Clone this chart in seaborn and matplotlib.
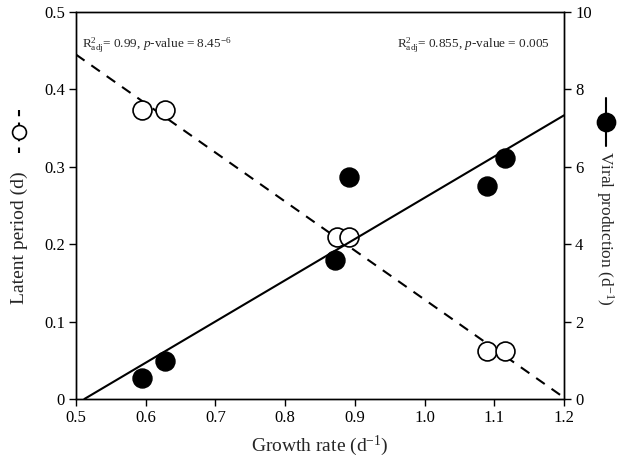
import numpy as np
import pandas as pd
import matplotlib
matplotlib.use("Agg")
import matplotlib.pyplot as plt
import seaborn as sns
from matplotlib.lines import Line2D

# Data
growth_latent = [0.595, 0.627, 0.874, 0.892, 1.090, 1.115]
latent_period = [0.373, 0.373, 0.209, 0.209, 0.062, 0.062]
growth_viral = [0.595, 0.627, 0.872, 0.892, 1.090, 1.115]
viral_prod = [0.54, 0.98, 3.60, 5.74, 5.50, 6.24]
# regression line endpoints
latent_fit_x = [0.50, 1.195]
latent_fit_y = [0.445, 0.005]
viral_fit_x = [0.512, 1.20]
viral_fit_y = [0.0, 7.33]

xticks = [0.5, 0.6, 0.7, 0.8, 0.9, 1.0, 1.1, 1.2]
xticklabels = ["0.5", "0.6", "0.7", "0.8", "0.9", "1.0", "1.1", "1.2"]
lticks = [0, 0.1, 0.2, 0.3, 0.4, 0.5]
lticklabels = ["0", "0.1", "0.2", "0.3", "0.4", "0.5"]
rticks = [0, 2, 4, 6, 8, 10]
rticklabels = ["0", "2", "4", "6", "8", "10"]

sns.set_style("ticks")
plt.rcParams["font.family"] = ["Liberation Serif", "DejaVu Serif"]
plt.rcParams["mathtext.fontset"] = "custom"
plt.rcParams["mathtext.rm"] = "Liberation Serif"
plt.rcParams["mathtext.it"] = "Liberation Serif:italic"
plt.rcParams["axes.edgecolor"] = "black"
plt.rcParams["axes.linewidth"] = 1.0
plt.rcParams["xtick.color"] = "black"
plt.rcParams["ytick.color"] = "black"

W, H = 617, 458
fig = plt.figure(figsize=(W / 100, H / 100), dpi=100)
ax = fig.add_axes([76 / W, 1 - 399 / H, (564 - 76) / W, (399 - 12) / H])
ax2 = ax.twinx()

df_l = pd.DataFrame({"x": growth_latent, "y": latent_period})
df_v = pd.DataFrame({"x": growth_viral, "y": viral_prod})
df_lf = pd.DataFrame({"x": latent_fit_x, "y": latent_fit_y})
df_vf = pd.DataFrame({"x": viral_fit_x, "y": viral_fit_y})

sns.lineplot(data=df_lf, x="x", y="y", ax=ax, color="black", lw=1.5,
             linestyle=(0, (5, 4)), zorder=2)
sns.scatterplot(data=df_l, x="x", y="y", ax=ax, s=185, facecolor="white",
                edgecolor="black", linewidth=1.2, zorder=3)
sns.lineplot(data=df_vf, x="x", y="y", ax=ax2, color="black", lw=1.5, zorder=2)
sns.scatterplot(data=df_v, x="x", y="y", ax=ax2, s=185, color="black",
                edgecolor="black", zorder=3)

ax.set_xlim(0.5, 1.2)
ax.set_ylim(0, 0.5)
ax2.set_ylim(0, 10)
ax.set_xticks(xticks)
ax.set_xticklabels(xticklabels)
ax.set_yticks(lticks)
ax.set_yticklabels(lticklabels)
ax2.set_yticks(rticks)
ax2.set_yticklabels(rticklabels)

for a in (ax, ax2):
    a.tick_params(direction="out", length=5, width=1, labelsize=12, pad=3)
    for s in a.spines.values():
        s.set_visible(True)
        s.set_color("black")

ax.set_xlabel("")
ax.set_ylabel("")
ax2.set_ylabel("")
fig.text(320 / W, 1 - 446 / H, "Growth rate (d$^{-1}$)", fontsize=14,
         ha="center", va="center")
fig.text(19 / W, 1 - 238 / H, "Latent period (d)", fontsize=14,
         ha="center", va="center", rotation=90)
fig.text(605 / W, 1 - 228 / H, "Viral production (d$^{-1}$)", fontsize=12.5,
         ha="center", va="center", rotation=270)

ax.text(0.012, 0.912, r"R$^2_{\rm adj}$= 0.99, $p$-value = 8.45$^{-6}$",
        transform=ax.transAxes, fontsize=9.5, ha="left", va="center")
ax.text(0.972, 0.912, r"R$^2_{\rm adj}$= 0.855, $p$-value = 0.005",
        transform=ax.transAxes, fontsize=9.5, ha="right", va="center")

# legend glyphs next to axis labels
def glyph(xc, y0, y1, yc, filled, dashed, msize):
    ls = (0, (3, 3)) if dashed else "-"
    fig.add_artist(Line2D([xc / W, xc / W], [1 - y0 / H, 1 - y1 / H],
                          color="black", lw=1.5, linestyle=ls,
                          transform=fig.transFigure))
    fig.add_artist(Line2D([xc / W], [1 - yc / H], marker="o", markersize=msize,
                          markerfacecolor="black" if filled else "white",
                          markeredgecolor="black", markeredgewidth=1.2,
                          transform=fig.transFigure))

glyph(19, 110, 153, 132, False, True, 10)
glyph(606, 98, 146, 122, True, False, 13)

fig.savefig("out.png", dpi=100)
